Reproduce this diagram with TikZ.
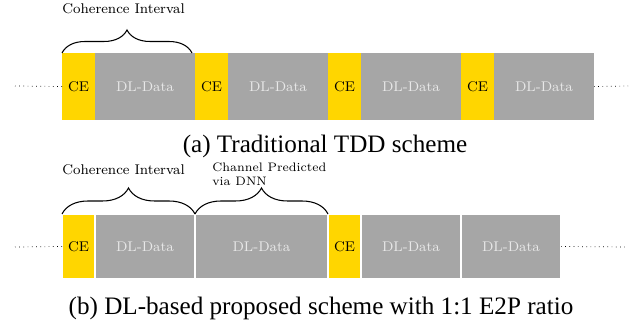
\documentclass[tikz,border=0pt]{standalone}
\usepackage{fontspec}
\newfontfamily\capfont{Liberation Serif}
\usetikzlibrary{positioning,decorations.pathreplacing}
\definecolor{ceyellow}{RGB}{255,214,0}
\definecolor{dlgray}{RGB}{166,166,166}
\definecolor{dltext}{RGB}{232,232,232}
\begin{document}
\begin{tikzpicture}[font=\footnotesize,
	ce/.style={fill=ceyellow,minimum width=0.66cm,minimum height=1.34cm,inner sep=0pt,outer sep=0pt},
	dl/.style={fill=dlgray,text=dltext,minimum width=2cm,minimum height=1.34cm,inner sep=0pt,outer sep=0pt},
	sep/.style={draw=white,line width=0.6pt,minimum height=1.3cm},
	brc/.style={decorate,decoration={brace,amplitude=#1},line width=0.6pt},
	lbl/.style={anchor=west,inner sep=0pt},
	captxt/.style={font=\capfont\fontsize{14.3}{17}\selectfont}]
	\useasboundingbox (0,0) rectangle (12.82,6.56);
	% (a) traditional TDD
	\node[ce,anchor=west] (ce1) at (1.24,4.83) {CE};
	\node[dl,right=0pt of ce1] (dl1) {DL-Data};
	\node[ce,right=0pt of dl1] (ce2) {CE};
	\node[dl,right=0pt of ce2] (dl2) {DL-Data};
	\node[ce,right=0pt of dl2] (ce3) {CE};
	\node[dl,right=0pt of ce3] (dl3) {DL-Data};
	\node[ce,right=0pt of dl3] (ce4) {CE};
	\node[dl,right=0pt of ce4] (dl4) {DL-Data};
	\coordinate (la) at (0.3,4.84);
	\coordinate (ra) at (12.56,4.84);
	\draw[dotted] (la) -- (ce1.west);
	\draw[dotted] (dl4.east) -- (ra);
	\draw[brc=0.46cm] (ce1.north west) -- ([xshift=-0.06cm]dl1.north east);
	\node[lbl] (cia) at (1.24,6.38) {Coherence Interval};
	\node[captxt] (capa) at (6.5,3.64) {(a) Traditional TDD scheme};
	% (b) DL-based scheme
	\node[ce,sep,anchor=west] (bce1) at (1.24,1.63) {CE};
	\node[dl,sep,right=0pt of bce1] (bdl1) {DL-Data};
	\node[dl,sep,minimum width=2.66cm,right=0pt of bdl1] (bdl2) {DL-Data};
	\node[ce,sep,right=0pt of bdl2] (bce2) {CE};
	\node[dl,sep,right=0pt of bce2] (bdl3) {DL-Data};
	\node[dl,sep,right=0pt of bdl3] (bdl4) {DL-Data};
	\coordinate (lb) at (0.3,1.62);
	\coordinate (rb) at (12.56,1.62);
	\draw[dotted] (lb) -- (bce1.west);
	\draw[dotted] (bdl4.east) -- (rb);
	\draw[brc=0.52cm] (bce1.north west) -- (bdl1.north east);
	\draw[brc=0.52cm] (bdl2.north west) -- (bdl2.north east);
	\node[lbl] (cib) at (1.24,3.16) {Coherence Interval};
	\node[lbl,align=left,font=\scriptsize] (pred) at (4.24,3.08) {Channel Predicted\\via DNN};
	\node[captxt] (capb) at (6.42,0.4) {(b) DL-based proposed scheme with 1:1 E2P ratio};
\end{tikzpicture}
\end{document}
